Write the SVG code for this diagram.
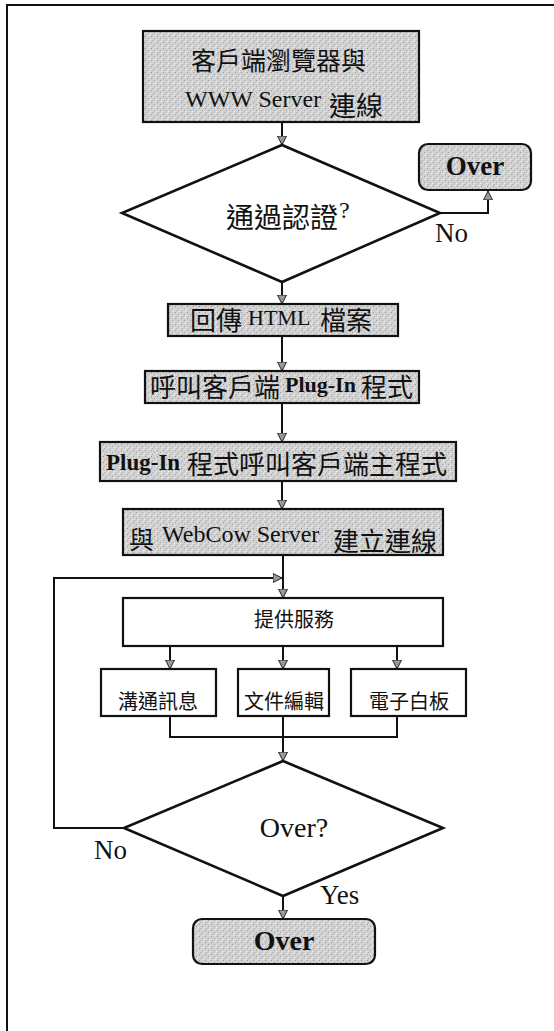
<svg xmlns="http://www.w3.org/2000/svg" width="554" height="1031" viewBox="0 0 554 1031">
  <style>
    .box { stroke: #111; stroke-width: 2.2; }
    .shaded { fill: url(#grain); }
    .plain { fill: #fff; }
    .dec { fill: #fff; stroke: #111; stroke-width: 2.6; stroke-linejoin: miter; }
    .wire { fill: none; stroke: #111; stroke-width: 2; }
    .flow { fill: none; stroke: #111; stroke-width: 2; marker-end: url(#arrow); }
    .cjk { font-family: "Noto Sans CJK TC", "Noto Sans CJK SC", sans-serif; fill: #111; }
    .lat { font-family: "Liberation Serif", "Times New Roman", serif; fill: #111; }
    .bold { font-weight: bold; }
  </style>
  <defs>
    <!-- speckled grey used for the highlighted steps -->
    <pattern id="grain" width="6" height="6" patternUnits="userSpaceOnUse">
      <rect width="6" height="6" fill="#d2d2d2"/>
      <rect x="1" y="0" width="1" height="1" fill="#989898"/>
      <rect x="4" y="2" width="1" height="1" fill="#a4a4a4"/>
      <rect x="2" y="4" width="1" height="1" fill="#acacac"/>
      <rect x="5" y="5" width="1" height="1" fill="#eeeeee"/>
      <rect x="0" y="3" width="1" height="1" fill="#eeeeee"/>
    </pattern>
    <marker id="arrow" markerUnits="userSpaceOnUse" markerWidth="12" markerHeight="12" refX="9" refY="5" orient="auto">
      <path d="M0,0.5 L9,5 L0,9.5 Z" fill="#9a9a9a" stroke="#222" stroke-width="1"/>
    </marker>
  </defs>

  <!-- outer frame -->
  <rect x="7" y="5" width="552" height="1040" fill="none" stroke="#111" stroke-width="2"/>

  <g id="connectors">
    <path class="flow" d="M282,122 V145"/>
    <path class="flow" d="M440,213 H488 V191"/>
    <path class="flow" d="M282,282 V304"/>
    <path class="flow" d="M282,336 V371"/>
    <path class="flow" d="M282,403 V442"/>
    <path class="flow" d="M282,481 V509"/>
    <path class="flow" d="M283,555 V598"/>
    <path class="flow" d="M124,828 H54 V578 H282"/>
    <path class="flow" d="M170,646 V669"/>
    <path class="flow" d="M283,646 V669"/>
    <path class="flow" d="M397,646 V669"/>
    <path class="wire" d="M170,716 V737 H397 V716"/>
    <path class="flow" d="M283,716 V761"/>
    <path class="flow" d="M283,896 V919"/>
  </g>

  <g id="connect-www">
    <rect class="box shaded" x="143" y="31" width="276" height="91"/>
    <text class="cjk" x="191" y="70" font-size="25">客戶端瀏覽器與</text>
    <text class="lat" x="185" y="107" font-size="24">WWW Server</text>
    <text class="cjk" x="329" y="116" font-size="27">連線</text>
  </g>

  <g id="auth-check">
    <polygon class="dec" points="282,145 440,213 282,282 122,213"/>
    <text class="cjk" x="226" y="228" font-size="28">通過認證</text>
    <text class="lat" x="339" y="218" font-size="24">?</text>
    <text class="lat" x="435" y="242" font-size="27">No</text>
  </g>

  <g id="over-top">
    <rect class="box shaded" x="419" y="144" width="112" height="46" rx="9"/>
    <text class="lat bold" x="475" y="175" font-size="27" text-anchor="middle">Over</text>
  </g>

  <g id="return-html">
    <rect class="box shaded" x="168" y="304" width="230" height="32"/>
    <text class="cjk" x="190" y="330" font-size="26">回傳</text>
    <text class="lat" x="248" y="325" font-size="22">HTML</text>
    <text class="cjk" x="320" y="330" font-size="26">檔案</text>
  </g>

  <g id="call-plugin">
    <rect class="box shaded" x="145" y="371" width="274" height="32"/>
    <text class="cjk" x="150" y="397" font-size="26">呼叫客戶端</text>
    <text class="lat bold" x="285" y="392" font-size="22">Plug-In</text>
    <text class="cjk" x="361" y="397" font-size="26">程式</text>
  </g>

  <g id="plugin-main">
    <rect class="box shaded" x="100" y="442" width="356" height="39"/>
    <text class="lat bold" x="106" y="470" font-size="23">Plug-In</text>
    <text class="cjk" x="187" y="474" font-size="26">程式呼叫客戶端主程式</text>
  </g>

  <g id="connect-webcow">
    <rect class="box shaded" x="123" y="509" width="320" height="46"/>
    <text class="cjk" x="129" y="549" font-size="25">與</text>
    <text class="lat" x="162" y="542" font-size="24">WebCow Server</text>
    <text class="cjk" x="333" y="551" font-size="26">建立連線</text>
  </g>

  <g id="services">
    <rect class="box plain" x="123" y="598" width="320" height="48"/>
    <text class="cjk" x="294" y="627" font-size="20" text-anchor="middle">提供服務</text>
  </g>

  <g id="messaging">
    <rect class="box plain" x="101" y="669" width="115" height="47"/>
    <text class="cjk" x="158" y="709" font-size="20" text-anchor="middle">溝通訊息</text>
  </g>

  <g id="doc-editing">
    <rect class="box plain" x="238" y="669" width="91" height="47"/>
    <text class="cjk" x="284" y="709" font-size="20" text-anchor="middle">文件編輯</text>
  </g>

  <g id="whiteboard">
    <rect class="box plain" x="351" y="669" width="115" height="47"/>
    <text class="cjk" x="409" y="709" font-size="20" text-anchor="middle">電子白板</text>
  </g>

  <g id="over-check">
    <polygon class="dec" points="283,761 443,828 283,896 124,828"/>
    <text class="lat" x="294" y="837" font-size="28" text-anchor="middle">Over?</text>
    <text class="lat" x="94" y="859" font-size="27">No</text>
    <text class="lat" x="320" y="904" font-size="27">Yes</text>
  </g>

  <g id="over-end">
    <rect class="box shaded" x="193" y="919" width="182" height="45" rx="9"/>
    <text class="lat bold" x="284" y="950" font-size="28" text-anchor="middle">Over</text>
  </g>
</svg>
